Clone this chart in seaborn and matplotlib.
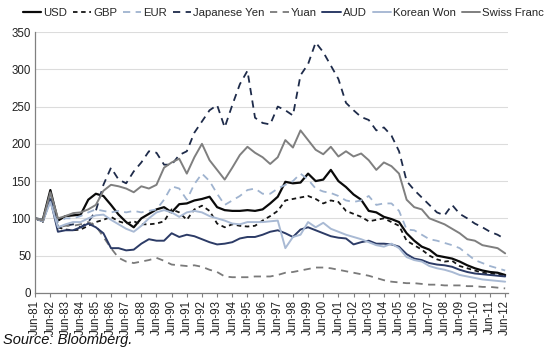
import numpy as np
import pandas as pd
import matplotlib
matplotlib.use("Agg")
import matplotlib.pyplot as plt
import seaborn as sns

# Semi-annual observations, Jun-81 ... Jun-12 (index = 100 at Jun-81)
dates = [1981.5 + 0.5 * i for i in range(63)]

usd = [100, 98, 138, 97, 103, 104, 105, 125, 133, 130, 118, 105, 95, 88, 100, 106,
       112, 115, 108, 119, 120, 124, 126, 129, 115, 111, 110, 110, 111, 110, 112, 120,
       129, 149, 147, 148, 160, 150, 152, 165, 150, 142, 132, 125, 110, 108, 102, 99,
       95, 80, 70, 62, 58, 50, 48, 46, 42, 37, 33, 30, 28, 27, 24]
gbp = [100, 95, 128, 88, 85, 84, 85, 90, 95, 98, 102, 96, 93, 96, 92, 92,
       93, 96, 112, 108, 98, 112, 117, 110, 93, 88, 92, 90, 89, 90, 97, 103,
       110, 124, 126, 128, 130, 126, 120, 124, 122, 110, 106, 102, 96, 98, 100, 95,
       90, 70, 64, 58, 50, 45, 42, 43, 36, 33, 30, 27, 26, 25, 23]
eur = [100, 98, 128, 95, 100, 100, 103, 108, 112, 110, 108, 110, 108, 110, 108, 110,
       112, 125, 143, 140, 125, 146, 160, 150, 133, 118, 124, 130, 138, 140, 133, 133,
       140, 145, 150, 160, 152, 140, 136, 134, 130, 124, 122, 124, 130, 118, 120, 120,
       110, 85, 84, 78, 72, 70, 67, 64, 60, 52, 44, 40, 36, 33, 30]
yen = [100, 96, 130, 88, 90, 92, 88, 95, 110, 145, 168, 152, 147, 163, 175, 190,
       188, 172, 172, 185, 190, 215, 230, 245, 252, 222, 252, 280, 298, 235, 228, 226,
       250, 245, 238, 292, 307, 336, 323, 305, 287, 255, 245, 236, 232, 218, 222, 211,
       190, 150, 138, 128, 118, 108, 104, 118, 106, 100, 93, 88, 82, 78, 72]
yuan = [100, 97, 125, 88, 90, 90, 92, 95, 90, 75, 60, 47, 42, 40, 42, 44,
        47, 43, 38, 37, 36, 37, 35, 31, 28, 22, 21, 21, 21, 22, 22, 22,
        24, 27, 28, 30, 32, 34, 34, 33, 31, 29, 27, 25, 23, 20, 17, 15,
        14, 13, 13, 12, 11, 11, 10, 10, 10, 9, 9, 8, 8, 7, 6]
aud = [100, 96, 125, 82, 84, 84, 88, 93, 88, 80, 60, 60, 57, 58, 66, 72,
       70, 70, 80, 75, 78, 76, 72, 68, 65, 66, 68, 73, 75, 75, 78, 82,
       84, 80, 75, 85, 88, 84, 80, 76, 74, 73, 65, 68, 70, 66, 66, 65,
       62, 52, 46, 44, 40, 38, 37, 35, 31, 28, 26, 25, 24, 23, 22]
won = [100, 96, 122, 88, 92, 95, 95, 100, 104, 105, 98, 92, 86, 82, 90, 100,
       108, 111, 108, 102, 108, 110, 108, 103, 100, 97, 93, 92, 95, 95, 95, 96,
       97, 60, 75, 78, 95, 88, 94, 86, 82, 78, 75, 72, 68, 64, 62, 66,
       60, 48, 44, 42, 36, 33, 31, 28, 24, 22, 20, 18, 17, 16, 15]
chf = [100, 97, 135, 100, 103, 107, 108, 112, 118, 137, 145, 143, 140, 135, 143, 140,
       145, 168, 175, 180, 160, 182, 200, 178, 165, 152, 168, 185, 196, 188, 182, 173,
       182, 205, 195, 218, 205, 192, 186, 196, 183, 190, 183, 187, 178, 165, 175, 170,
       160, 125, 115, 112, 100, 96, 92, 86, 80, 72, 70, 64, 62, 60, 53]

currencies = ["USD", "GBP", "EUR", "Japanese Yen", "Yuan", "AUD", "Korean Won", "Swiss Franc"]
series = [usd, gbp, eur, yen, yuan, aud, won, chf]

tick_years = list(range(1981, 2013))
tick_labels = [f"Jun-{y % 100:02d}" for y in tick_years]

colors = {
    "USD": "#0a0a0a",
    "GBP": "#151515",
    "EUR": "#9fb3cf",
    "Japanese Yen": "#1e2b4a",
    "Yuan": "#7a7a7a",
    "AUD": "#2c3b66",
    "Korean Won": "#a9bad4",
    "Swiss Franc": "#7f7f7f",
}
dashes = {
    "USD": "",
    "GBP": (2.5, 2),
    "EUR": (4, 3),
    "Japanese Yen": (4, 3),
    "Yuan": (4, 3),
    "AUD": "",
    "Korean Won": "",
    "Swiss Franc": "",
}
widths = {"USD": 1.6, "GBP": 1.3, "EUR": 1.3, "Japanese Yen": 1.3, "Yuan": 1.3,
          "AUD": 1.4, "Korean Won": 1.4, "Swiss Franc": 1.4}

df = pd.concat(
    [pd.DataFrame({"date": dates, "value": vals, "Currency": name})
     for name, vals in zip(currencies, series)],
    ignore_index=True,
)

sns.set_theme(style="white")
plt.rcParams["font.family"] = ["Liberation Sans", "DejaVu Sans"]

fig = plt.figure(figsize=(5.5, 3.52), dpi=100)
ax = fig.add_axes([0.064, 0.168, 0.86, 0.741])

sns.lineplot(data=df, x="date", y="value", hue="Currency", style="Currency",
             hue_order=currencies, style_order=currencies,
             palette=colors, dashes=dashes, ax=ax, legend=True)

for name, line in zip(currencies, ax.get_lines()[:8]):
    line.set_linewidth(widths[name])

ax.set_xlim(1981.5, 2012.7)
ax.set_ylim(0, 350)
ax.set_yticks(range(0, 351, 50))
ax.set_xticks([y + 0.5 for y in tick_years])
ax.set_xticklabels(tick_labels, rotation=90, fontsize=8.3, color="#222222")
ax.tick_params(axis="y", labelsize=8.3, colors="#222222", length=0, pad=3)
ax.tick_params(axis="x", length=3, width=0.8, color="#808080", pad=2, bottom=True)
ax.set_xlabel("")
ax.set_ylabel("")
ax.grid(axis="y", color="#dcdcdc", linewidth=0.8)
ax.grid(axis="x", visible=False)
for s in ["top", "right"]:
    ax.spines[s].set_visible(False)
for s in ["left", "bottom"]:
    ax.spines[s].set_color("#808080")
    ax.spines[s].set_linewidth(0.9)

handles, labels = ax.get_legend_handles_labels()
ax.get_legend().remove()
for h, name in zip(handles, labels):
    h.set_linewidth(widths.get(name, 1.3))
fig.legend(handles, labels, loc="center", bbox_to_anchor=(0.515, 0.962), ncol=8,
           frameon=False, fontsize=8.2, handlelength=1.6, handletextpad=0.2,
           columnspacing=0.5, borderaxespad=0, borderpad=0)

fig.text(0.006, 0.035, "Source: Bloomberg.", fontsize=10.5, style="italic",
         color="#111111", ha="left", va="center")

fig.savefig("out.png", dpi=100, facecolor="white")
